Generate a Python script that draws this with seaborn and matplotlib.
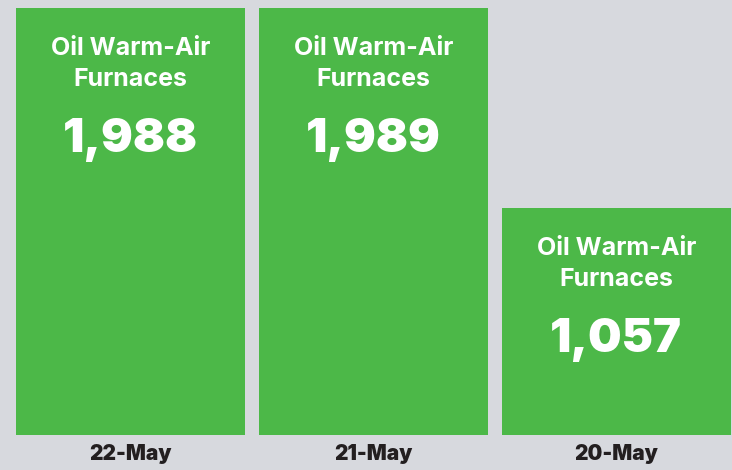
import pandas as pd
import matplotlib.pyplot as plt
import seaborn as sns

# Data
dates = ["22-May", "21-May", "20-May"]
counts = [1988, 1989, 1057]
line1 = "Oil Warm-Air"
line2 = "Furnaces"

df = pd.DataFrame({"date": dates, "count": counts})

bg = "#d7d9de"
green = "#4cb848"

sns.set_style("white")
plt.rcParams['font.family'] = ['Inter', 'Liberation Sans', 'DejaVu Sans']

fig = plt.figure(figsize=(7.32, 4.70), dpi=100, facecolor=bg)
# axes spans the bars exactly: x 16..731 px, baseline at 435 px
ax = fig.add_axes([16 / 732, 1 - 435 / 470, 715 / 732, 435 / 470])
ax.set_facecolor(bg)

sns.barplot(data=df, x="date", y="count", order=dates, color=green,
            saturation=1, width=0.945, linewidth=0, ax=ax)

ax.set_xlim(-0.4725, 2.4725)
ax.set_ylim(0, 435 / 0.2148)

# labels inside each bar, positioned from the bar top
for i, v in enumerate(counts):
    ax.annotate(line1, (i, v), xytext=(0, -47), textcoords="offset pixels",
                ha="center", va="baseline", color="white", fontsize=18, fontweight="bold")
    ax.annotate(line2, (i, v), xytext=(0, -78), textcoords="offset pixels",
                ha="center", va="baseline", color="white", fontsize=18, fontweight="bold")
    ax.annotate(f"{v:,}", (i, v), xytext=(0, -144), textcoords="offset pixels",
                ha="center", va="baseline", color="white", fontsize=34, fontweight="black")

ax.set_xlabel("")
ax.set_ylabel("")
ax.set_yticks([])
ax.tick_params(axis="x", length=0, pad=6.5, labelsize=15, labelcolor="#231f20")
for t in ax.get_xticklabels():
    t.set_fontweight("black")
sns.despine(ax=ax, left=True, bottom=True)

fig.savefig("out.png", dpi=100, facecolor=bg)
